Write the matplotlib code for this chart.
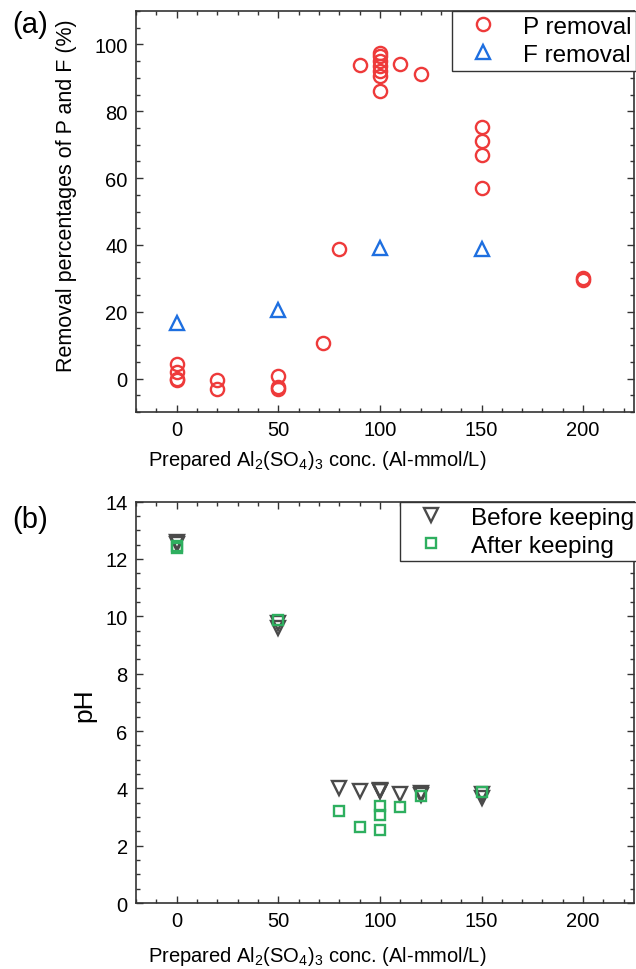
import matplotlib
matplotlib.use("Agg")
import matplotlib.pyplot as plt
from matplotlib.ticker import MultipleLocator

plt.rcParams['font.family'] = ['Liberation Sans', 'DejaVu Sans']
plt.rcParams['mathtext.default'] = 'regular'

# (a) 除去率
p_x = [0, 0, 0, 0, 20, 20, 50, 50, 50, 72, 80, 90,
       100, 100, 100, 100, 100, 100, 100, 110, 120,
       150, 150, 150, 150, 200, 200]
p_y = [4.5, 2.0, 0.0, -0.5, -0.3, -3.2, 0.8, -2.4, -3.2, 10.7, 38.7, 93.8,
       97.5, 96.5, 95.0, 93.5, 92.0, 90.5, 86.2, 94.2, 91.2,
       75.2, 71.0, 67.0, 56.9, 29.6, 30.2]
f_x = [0, 50, 100, 150]
f_y = [16.6, 20.6, 39.1, 38.8]

# (b) pH
before_x = [0, 0, 50, 50, 80, 90, 100, 100, 100, 110, 120, 120, 150, 150]
before_y = [12.58, 12.52, 9.78, 9.6, 4.02, 3.92, 3.96, 3.92, 3.9, 3.82, 3.85, 3.78, 3.82, 3.68]
after_x = [0, 0, 50, 80, 90, 100, 100, 100, 110, 120, 150]
after_y = [12.45, 12.4, 9.88, 3.2, 2.66, 3.4, 3.08, 2.55, 3.34, 3.74, 3.86]

xticks = [0, 50, 100, 150, 200]
xlabel = r'Prepared Al$_2$(SO$_4$)$_3$ conc. (Al-mmol/L)'

fig = plt.figure(figsize=(6.36, 9.70), dpi=100)
ax1 = fig.add_axes([0.2138, 0.5742, 0.7830, 0.4134])
ax2 = fig.add_axes([0.2138, 0.0680, 0.7830, 0.4138])

red = '#EE3A3A'
blue = '#1E6FE0'
gray = '#4A4A4A'
green = '#2EAF5F'

ax1.plot(p_x, p_y, 'o', ms=9.5, mfc='none', mec=red, mew=1.7, label='P removal')
ax1.plot(f_x, f_y, '^', ms=10.5, mfc='none', mec=blue, mew=1.7, label='F removal')
ax2.plot(before_x, before_y, 'v', ms=10.5, mfc='none', mec=gray, mew=1.7, label='Before keeping')
ax2.plot(after_x, after_y, 's', ms=7.5, mfc='none', mec=green, mew=1.7, label='After keeping')

for ax in (ax1, ax2):
    ax.set_xlim(-20, 225)
    ax.set_xticks(xticks)
    ax.xaxis.set_minor_locator(MultipleLocator(10))
    ax.tick_params(which='both', direction='in', top=True, right=True,
                   labelsize=14.5, width=1.0, color='#333333')
    ax.tick_params(which='major', length=5, pad=6)
    ax.tick_params(which='minor', length=3)
    for s in ax.spines.values():
        s.set_linewidth(1.2)
        s.set_color('#333333')
    ax.set_xlabel(xlabel, fontsize=14.5)

ax1.xaxis.set_label_coords(0.363, -0.09)
ax2.xaxis.set_label_coords(0.363, -0.102)

ax1.set_ylim(-10, 110)
ax1.set_yticks([0, 20, 40, 60, 80, 100])
ax1.yaxis.set_minor_locator(MultipleLocator(5))
ax1.set_ylabel('Removal percentages of P and F (%)', fontsize=15.5)
ax1.yaxis.set_label_coords(-0.118, 0.541)

ax2.set_ylim(0, 14)
ax2.set_yticks([0, 2, 4, 6, 8, 10, 12, 14])
ax2.yaxis.set_minor_locator(MultipleLocator(0.5))
ax2.set_ylabel('pH', fontsize=19)
ax2.yaxis.set_label_coords(-0.08, 0.496)

leg_kw = dict(loc='upper left', fontsize=17.5, frameon=True, fancybox=False,
              borderaxespad=0, borderpad=0.2, labelspacing=0.25,
              handlelength=2.1, handletextpad=0.6, framealpha=1)
l1 = ax1.legend(bbox_to_anchor=(0.635, 1.0), **leg_kw)
l2 = ax2.legend(bbox_to_anchor=(0.531, 1.0), **leg_kw)
for l in (l1, l2):
    l.get_frame().set_edgecolor('#333333')
    l.get_frame().set_linewidth(1.0)

fig.text(0.019, 0.974, '(a)', fontsize=21, va='center', ha='left')
fig.text(0.019, 0.464, '(b)', fontsize=21, va='center', ha='left')

fig.savefig('out.png', dpi=100)
